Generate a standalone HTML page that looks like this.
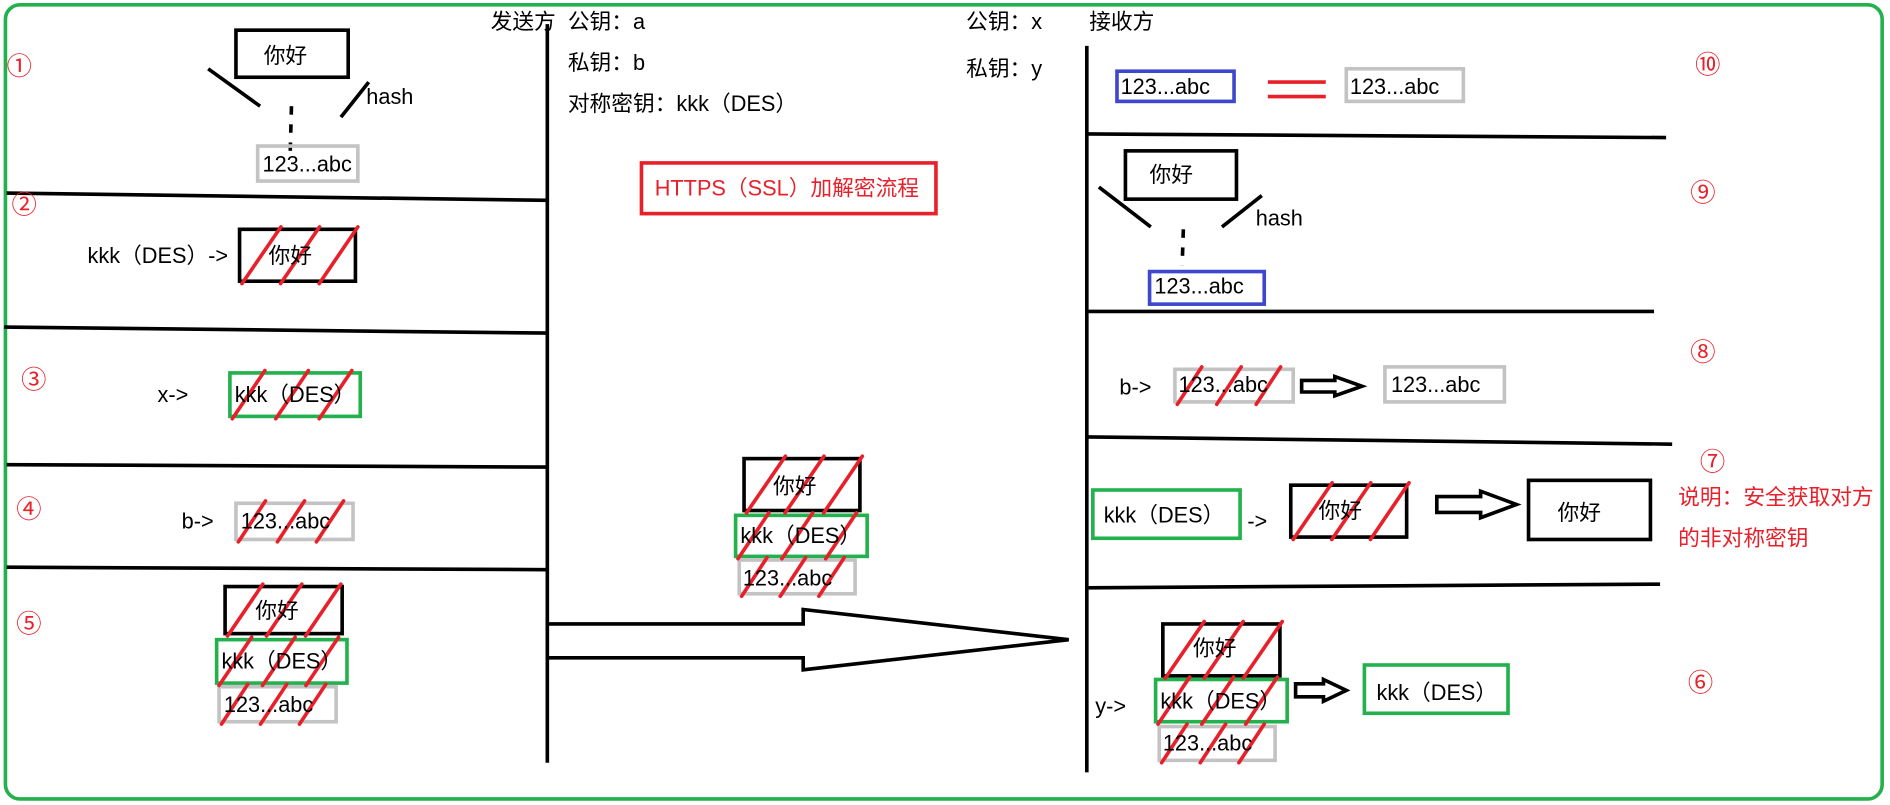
<!DOCTYPE html>
<html><head><meta charset="utf-8"><style>
html,body{margin:0;padding:0;background:#fff;}
svg{display:block}
text{font-family:"Liberation Sans","Noto Sans CJK SC",sans-serif;font-size:18px;fill:#000}
.r{fill:#e8202a}
.c{font-size:21px}
</style></head><body>
<svg id="s" width="1890" height="805" viewBox="0 0 1565 667" xmlns="http://www.w3.org/2000/svg">
<rect x="4" y="4" width="1555" height="658" rx="12" fill="none" stroke="#22b14c" stroke-width="3"/>
<g stroke="#000" stroke-width="3" fill="none">
<line x1="453" y1="20" x2="453" y2="632"/>
<line x1="900" y1="38" x2="900" y2="640"/>
<line x1="5" y1="160" x2="453" y2="166"/>
<line x1="3" y1="271" x2="453" y2="276"/>
<line x1="5" y1="385" x2="453" y2="387"/>
<line x1="5" y1="470" x2="453" y2="472"/>
<line x1="900" y1="111" x2="1380" y2="114"/>
<line x1="900" y1="258" x2="1370" y2="258"/>
<line x1="900" y1="362" x2="1385" y2="368"/>
<line x1="900" y1="487" x2="1375" y2="484"/>
<line x1="172" y1="57" x2="215" y2="88"/>
<line x1="305" y1="68" x2="282" y2="97" />
<line x1="241" y1="88" x2="240" y2="125" stroke-dasharray="7,8"/>
<line x1="910" y1="155" x2="953" y2="188"/>
<line x1="1045" y1="162" x2="1012" y2="188"/>
<line x1="980" y1="190" x2="979" y2="220" stroke-dasharray="7,8"/>
<polygon points="453,517 665,517 665,505 885,530 665,555 665,545 453,545" fill="#fff"/>
</g>
<g id="boxes" fill="#fff" stroke-width="3"></g>
<g id="hatch" stroke="#e8202a" stroke-width="3" stroke-linecap="round"></g>
<g id="arr" stroke="#000" stroke-width="3" fill="#fff"></g>
<rect x="531" y="135" width="244" height="42" fill="none" stroke="#e8202a" stroke-width="3"/>
<line x1="1050" y1="68" x2="1098" y2="68" stroke="#e8202a" stroke-width="3"/>
<line x1="1050" y1="80" x2="1098" y2="80" stroke="#e8202a" stroke-width="3"/>
<g id="labels">
<text x="406" y="24">发送方</text><text x="470" y="24">公钥：a</text>
<text x="470" y="58">私钥：b</text><text x="470" y="92">对称密钥：kkk（DES）</text>
<text x="542" y="162" class="r">HTTPS（SSL）加解密流程</text>
<text x="800" y="24">公钥：x</text><text x="800" y="63">私钥：y</text><text x="902" y="24">接收方</text>
<text x="218" y="52">你好</text><text x="303" y="86">hash</text><text x="217" y="142">123...abc</text>
<text x="72" y="218">kkk（DES）-&gt;</text><text x="222" y="218">你好</text>
<text x="130" y="333">x-&gt;</text><text x="194" y="333">kkk（DES）</text>
<text x="150" y="438">b-&gt;</text><text x="199" y="438">123...abc</text>
<text x="211" y="512">你好</text><text x="183" y="554">kkk（DES）</text><text x="185" y="590">123...abc</text>
<text x="640" y="409">你好</text><text x="613" y="450">kkk（DES）</text><text x="615" y="485">123...abc</text>
<text x="928" y="78">123...abc</text><text x="1118" y="78">123...abc</text>
<text x="952" y="151">你好</text><text x="1040" y="187">hash</text><text x="956" y="243">123...abc</text>
<text x="927" y="327">b-&gt;</text><text x="976" y="325">123...abc</text><text x="1152" y="325">123...abc</text>
<text x="914" y="433">kkk（DES）</text><text x="1033" y="438">-&gt;</text><text x="1092" y="429">你好</text>
<text x="1290" y="431">你好</text>
<text x="1390" y="418" class="r">说明：安全获取对方</text><text x="1390" y="452" class="r">的非对称密钥</text>
<text x="988" y="543">你好</text><text x="907" y="591">y-&gt;</text><text x="961" y="587">kkk（DES）</text>
<text x="963" y="622">123...abc</text><text x="1140" y="580">kkk（DES）</text>
<text x="5" y="62" class="r c">①</text><text x="9" y="177" class="r c">②</text><text x="17" y="322" class="r c">③</text>
<text x="13" y="429" class="r c">④</text><text x="13" y="524" class="r c">⑤</text>
<text x="1398" y="573" class="r c">⑥</text><text x="1408" y="390" class="r c">⑦</text><text x="1400" y="299" class="r c">⑧</text>
<text x="1400" y="167" class="r c">⑨</text><text x="1404" y="61" class="r c">⑩</text>
</g>
</svg>
<script>
var NS="http://www.w3.org/2000/svg";
function el(p,t,a){var e=document.createElementNS(NS,t);for(var k in a)e.setAttribute(k,a[k]);document.getElementById(p).appendChild(e);}
var K="#000",G="#22b14c",Y="#c3c3c3",B="#3f48cc";
var boxes=[
[195,25,93,39,K,0],[213,121,83,29,Y,0],[198,190,96,43,K,1],[190,309,108,36,G,1],[195,417,97,30,Y,1],
[186,486,97,39,K,1],[179,530,108,36,G,1],[181,569,97,29,Y,1],
[616,380,96,43,K,1],[609,427,109,34,G,1],[612,464,96,28,Y,1],
[925,59,97,25,B,0],[1115,57,97,27,Y,0],[932,125,92,40,K,0],[952,225,95,27,B,0],
[973,306,98,27,Y,1],[1147,304,99,29,Y,0],
[905,406,122,40,G,0],[1069,402,96,43,K,1],[1266,398,101,49,K,0],
[963,517,97,43,K,1],[957,563,109,35,G,1],[960,602,96,28,Y,1],[1130,551,119,40,G,0]];
boxes.forEach(function(b){
 el("boxes","rect",{x:b[0],y:b[1],width:b[2],height:b[3],stroke:b[4],fill:"none"});
 if(b[5]){var n=3,w=b[2],h=b[3];for(var i=0;i<n;i++){var x0=b[0]+w*(i/n)+2,x1=x0+h*0.75;
  el("hatch","line",{x1:x0,y1:b[1]+h+2,x2:Math.min(x1,b[0]+w+2),y2:b[1]-2});}}
});
function arrow(x1,x2,yc,h){var s=h*0.3,hx=x2-(x2-x1)*0.45;
 el("arr","polygon",{points:[x1,yc-s,hx,yc-s,hx,yc-h/2,x2,yc,hx,yc+h/2,hx,yc+s,x1,yc+s].join(",")});}
arrow(1078,1128,320,16);arrow(1190,1256,418,22);arrow(1073,1115,572,18);
</script>
</body></html>
